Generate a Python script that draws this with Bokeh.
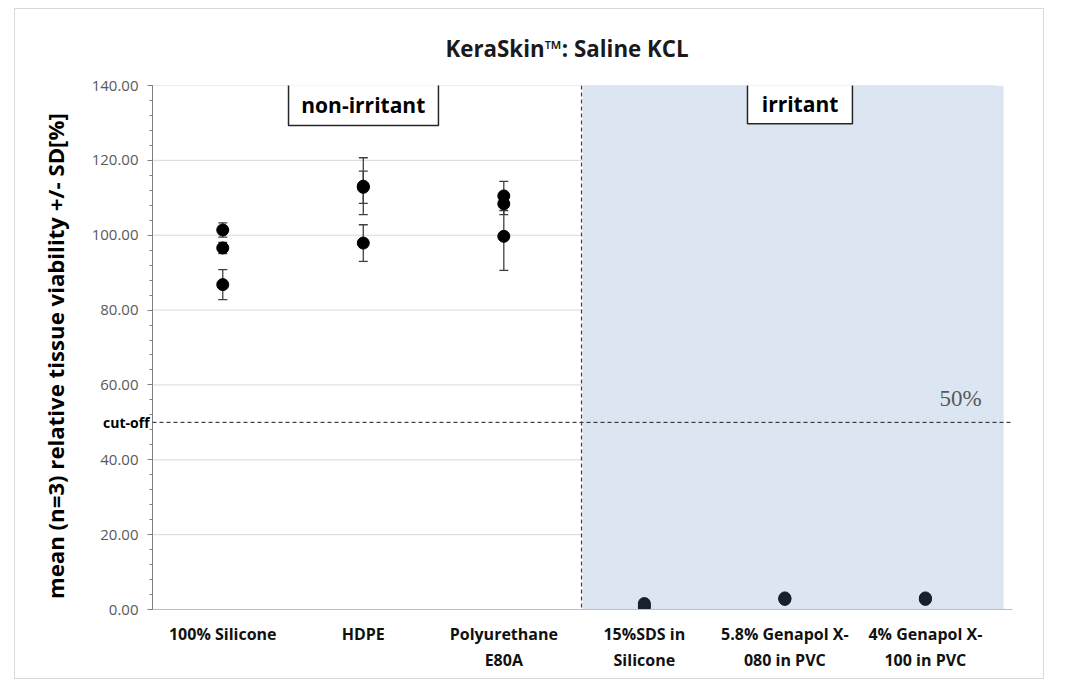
import math
from bokeh.plotting import figure
from bokeh.models import (ColumnDataSource, Whisker, TeeHead, Span, Label, BoxAnnotation,
                          FixedTicker, Range1d, PrintfTickFormatter, LinearAxis)
from bokeh.embed import file_html
from bokeh.resources import INLINE

# ---- data ----
CATEGORIES = ["100% Silicone", "HDPE", "Polyurethane\nE80A", "15%SDS in\nSilicone",
              "5.8% Genapol X-\n080 in PVC", "4% Genapol X-\n100 in PVC"]
IRRITANT = [False, False, False, True, True, True]
MEANS = [
    [101.4, 96.6, 86.8],
    [113.1, 112.8, 97.9],
    [110.5, 108.4, 99.7],
    [0.5, 1.0, 1.6],
    [2.7, 2.9, 3.1],
    [2.7, 2.9, 3.1],
]
SDS = [
    [1.9, 1.5, 4.0],
    [7.6, 4.3, 4.9],
    [3.9, 2.9, 9.1],
    [0.3, 0.3, 0.3],
    [0.3, 0.3, 0.3],
    [0.3, 0.3, 0.3],
]
Y_TICKS = [0, 20, 40, 60, 80, 100, 120, 140]
CUTOFF = 50
TITLE = "KeraSkin\u2122: Saline KCL"
Y_TITLE = "mean (n=3) relative tissue viability +/- SD[%]"

FONT = "Open Sans"

xs, ys, up, lo, cols = [], [], [], [], []
for i, (m, s) in enumerate(zip(MEANS, SDS)):
    for mv, sv in zip(m, s):
        xs.append(i + 1)
        ys.append(mv)
        up.append(mv + sv)
        lo.append(mv - sv)
        cols.append("#17212c" if IRRITANT[i] else "#000000")
src = ColumnDataSource(dict(x=xs, y=ys, upper=up, lower=lo, color=cols))

p = figure(width=1028, height=669, output_backend="svg", toolbar_location=None,
           x_range=Range1d(0.5, 6.62), y_range=Range1d(0, 140),
           min_border_left=137, min_border_right=31, min_border_top=76, min_border_bottom=69)
p.margin = (9, 0, 0, 15)
p.styles = {"outline": "1px solid #d9d9d9"}
p.outline_line_color = None
p.xgrid.visible = False
p.ygrid.visible = False
p.background_fill_color = "white"
p.border_fill_color = "white"

p.title.text = TITLE
p.title.align = "left"
p.title.offset = 293
p.title.text_font = FONT
p.title.text_font_size = "22.3px"
p.title.text_font_style = "bold"
p.title.text_color = "#1a1a1a"
p.title.standoff = 43

# irritant shading
blue = BoxAnnotation(left=3.56, right=6.557, bottom=0, top=140, fill_color="#dce6f2",
                     fill_alpha=1.0, line_color=None, level="underlay")
p.add_layout(blue)

# gridlines
g = p.segment(x0=[0.5] * (len(Y_TICKS) - 1), x1=[6.5] * (len(Y_TICKS) - 1),
              y0=Y_TICKS[1:], y1=Y_TICKS[1:], line_color="#d9d9d9", line_width=1)
g.level = "underlay"

# error bars
wh = Whisker(source=src, base="x", upper="upper", lower="lower", dimension="height",
             line_color="#404040", line_width=1.3,
             upper_head=TeeHead(size=9, line_color="#404040", line_width=1.3),
             lower_head=TeeHead(size=9, line_color="#404040", line_width=1.3),
             level="underlay")
p.add_layout(wh)

p.scatter("x", "y", source=src, size=12, fill_color="color", line_color="color")

# cut-off lines
p.add_layout(Span(location=CUTOFF, dimension="width", line_color="#1a1a1a",
                  line_dash="4 3", line_width=1))
p.add_layout(Span(location=3.553, dimension="height", line_color="#404040",
                  line_dash="4 3", line_width=1.2))

# axes
p.yaxis.ticker = FixedTicker(ticks=Y_TICKS, minor_ticks=list(range(0, 141, 4)))
p.yaxis.formatter = PrintfTickFormatter(format="%.2f")
p.yaxis.axis_line_color = "#7f7f7f"
p.yaxis.major_tick_line_color = "#7f7f7f"
p.yaxis.minor_tick_line_color = "#7f7f7f"
p.yaxis.major_tick_in = 0
p.yaxis.major_tick_out = 5
p.yaxis.minor_tick_in = 0
p.yaxis.minor_tick_out = 3
p.yaxis.major_label_text_font = FONT
p.yaxis.major_label_text_font_size = "15px"
p.yaxis.major_label_text_color = "#595959"
p.yaxis.major_label_standoff = 9

# outer left axis: cut-off label + axis title
cut_axis = LinearAxis(ticker=FixedTicker(ticks=[CUTOFF], minor_ticks=[]),
                      major_label_overrides={CUTOFF: "cut-off"})
cut_axis.axis_line_color = None
cut_axis.major_tick_line_color = None
cut_axis.minor_tick_line_color = None
cut_axis.major_label_text_font = FONT
cut_axis.major_label_text_font_size = "14px"
cut_axis.major_label_text_font_style = "bold"
cut_axis.major_label_text_color = "#000000"
cut_axis.major_label_standoff = -67
cut_axis.axis_label = Y_TITLE + "\u00a0" * 3
cut_axis.axis_label_text_font = FONT
cut_axis.axis_label_text_font_size = "22.2px"
cut_axis.axis_label_text_font_style = "bold"
cut_axis.axis_label_text_color = "#000000"
cut_axis.axis_label_standoff = 29
p.add_layout(cut_axis, "left")

p.xaxis.ticker = FixedTicker(ticks=list(range(1, len(CATEGORIES) + 1)))
p.xaxis.major_label_overrides = {i + 1: c for i, c in enumerate(CATEGORIES)}
p.xaxis.axis_line_color = "#bfbfbf"
p.xaxis.major_tick_line_color = None
p.xaxis.minor_tick_line_color = None
p.xaxis.major_label_text_font = FONT
p.xaxis.major_label_text_font_size = "16px"
p.xaxis.major_label_text_font_style = "bold"
p.xaxis.major_label_text_color = "#111111"
p.xaxis.major_label_standoff = 7

# 50% text
p.add_layout(Label(x=6.25, y=56.4, text="50%", text_align="center",
                   text_baseline="middle", text_font="Liberation Serif", text_font_size="23px",
                   text_color="#595959"))

# category boxes
for (l, r, b, t, cx, txt) in [(1.468, 2.535, 129.3, 140.5, 2.0, "non-irritant"),
                              (4.734, 5.481, 129.8, 140.5, 5.108, "irritant")]:
    p.add_layout(BoxAnnotation(left=l, right=r, bottom=b, top=t, fill_color="white",
                               fill_alpha=1.0, line_color="#262626", line_alpha=1.0,
                               line_width=1.5, level="overlay"))
    p.add_layout(Label(x=cx, y=(b + t) / 2, text=txt, text_align="center",
                       text_baseline="middle", text_font=FONT, text_font_size="21px",
                       text_font_style="bold", text_color="#000000", level="overlay"))

open("out.html", "w").write(file_html(p, INLINE))
